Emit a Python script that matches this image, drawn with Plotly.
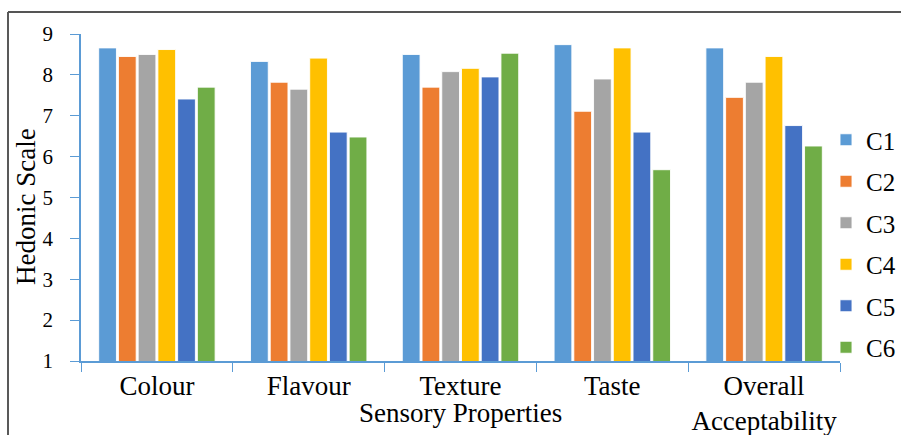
import plotly.graph_objects as go

# Sensory evaluation scores (hedonic scale) per attribute and sample
categories = ["Colour", "Flavour", "Texture", "Taste", "Overall<br>Acceptability"]
series_names = ["C1", "C2", "C3", "C4", "C5", "C6"]
c1 = [8.66, 8.33, 8.50, 8.74, 8.66]
c2 = [8.45, 7.82, 7.70, 7.11, 7.45]
c3 = [8.50, 7.65, 8.08, 7.90, 7.82]
c4 = [8.62, 8.41, 8.16, 8.66, 8.45]
c5 = [7.41, 6.60, 7.95, 6.60, 6.76]
c6 = [7.70, 6.48, 8.53, 5.68, 6.26]
series_values = [c1, c2, c3, c4, c5, c6]
colors = ["#5B9BD5", "#ED7D31", "#A5A5A5", "#FFC000", "#4472C4", "#70AD47"]

y_title = "Hedonic Scale"
x_title = "Sensory Properties"

W, H = 901, 435
L, R, T, B = 81, 61, 34, 74
pw, ph = W - L - R, H - T - B

def px_x(x):
    return (x - L) / pw

def px_y(y):
    return (H - B - y) / ph

FONT = "Times New Roman, Liberation Serif, serif"
AXIS_COLOR = "#5B9BD5"

fig = go.Figure()
for name, vals, col in zip(series_names, series_values, colors):
    fig.add_trace(go.Bar(
        x=categories, y=vals, name=name, legendgroup=name,
        marker=dict(color=col, line=dict(color="rgba(255,255,255,0.9)", width=1)),
    ))

fig.update_layout(
    width=W, height=H,
    margin=dict(l=L, r=R, t=T, b=B, autoexpand=False),
    paper_bgcolor="white", plot_bgcolor="white",
    barmode="group", bargap=0.22, bargroupgap=0.1,
    font=dict(family=FONT, color="#000000"),
    showlegend=True,
    legend=dict(
        x=px_x(826), xanchor="left", y=px_y(117), yanchor="top",
        font=dict(size=25, family=FONT), tracegroupgap=6,
        bgcolor="rgba(0,0,0,0)",
    ),
    xaxis=dict(
        type="category", tickson="boundaries", ticks="outside", ticklen=9,
        tickcolor=AXIS_COLOR, showline=True, linecolor=AXIS_COLOR, linewidth=1.5,
        showgrid=False, tickfont=dict(size=27, family=FONT),
        tickangle=0, automargin=False,
    ),
    yaxis=dict(
        range=[1, 9], dtick=1, ticks="outside", ticklen=9, tickcolor=AXIS_COLOR,
        showline=True, linecolor=AXIS_COLOR, linewidth=1.5, showgrid=False,
        zeroline=False, tickfont=dict(size=21, family=FONT), ticklabelstandoff=13,
        automargin=False,
    ),
    annotations=[
        dict(text=y_title, textangle=-90, xref="paper", yref="paper",
             x=px_x(26), y=px_y(207), xanchor="center", yanchor="middle",
             showarrow=False, font=dict(size=27, family=FONT)),
        dict(text=x_title, xref="paper", yref="paper",
             x=0.5, y=px_y(413), xanchor="center", yanchor="middle",
             showarrow=False, font=dict(size=27, family=FONT)),
    ],
    shapes=[
        dict(type="line", xref="paper", yref="paper",
             x0=px_x(8), x1=px_x(8), y0=px_y(12), y1=px_y(H + 2),
             line=dict(color="#222222", width=1.5)),
        dict(type="line", xref="paper", yref="paper",
             x0=px_x(8), x1=px_x(W + 2), y0=px_y(12), y1=px_y(12),
             line=dict(color="#555555", width=2)),
    ],
)

fig.write_html("out.html")
